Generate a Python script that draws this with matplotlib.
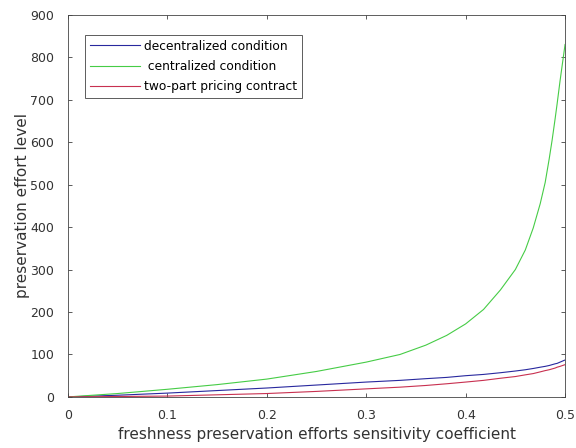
import numpy as np
import matplotlib
matplotlib.use("Agg")
import matplotlib.pyplot as plt

plt.rcParams['font.family'] = ['DejaVu Sans']

# sensitivity coefficient (x) and effort levels
x = [0, 0.05, 0.1, 0.15, 0.2, 0.25, 0.3, 0.334, 0.36, 0.381, 0.4, 0.418, 0.435, 0.45,
     0.46, 0.468, 0.475, 0.48, 0.484, 0.487, 0.49, 0.492, 0.495, 0.5]
decentralized = [0, 4, 9, 15, 21, 28, 35, 39, 43, 46, 50, 53, 57, 61,
                 64, 67, 70, 72, 74, 76, 78, 79, 82, 87]
centralized = [0, 8, 18, 29, 42, 60, 82, 100, 122, 145, 172, 206, 252, 300,
               346, 398, 455, 505, 560, 605, 655, 690, 745, 830]
two_part = [0, 1, 2, 5, 8, 13, 19, 23, 27, 31, 35, 39, 44, 48,
            52, 55, 59, 62, 64, 66, 68, 70, 72, 76]

labels = ["decentralized condition", " centralized condition", "two-part pricing contract"]
xticks = [0, 0.1, 0.2, 0.3, 0.4, 0.5]
yticks = list(range(0, 901, 100))

fig = plt.figure(figsize=(5.76, 4.48), dpi=100)
ax = fig.add_axes([0.118, 0.114, 0.863, 0.853])

ax.plot(x, decentralized, color='#28289e', lw=0.8, label=labels[0])
ax.plot(x, centralized, color='#46cc46', lw=0.8, label=labels[1])
ax.plot(x, two_part, color='#c83050', lw=0.8, label=labels[2])

ax.set_xlim(0, 0.5)
ax.set_ylim(0, 900)
ax.set_xticks(xticks)
ax.set_xticklabels(["0", "0.1", "0.2", "0.3", "0.4", "0.5"])
ax.set_yticks(yticks)
ax.tick_params(direction='in', top=True, right=True, length=3, width=0.6,
               labelsize=9, colors='#404040', labelcolor='#333333')
ax.tick_params(axis='x', pad=9)
ax.tick_params(axis='y', pad=10)
for s in ax.spines.values():
    s.set_linewidth(0.6)
    s.set_color('#444444')

ax.set_xlabel("freshness preservation efforts sensitivity coefficient", fontsize=11, color='#333333', labelpad=3)
ax.set_ylabel("preservation effort level", fontsize=11, color='#333333', labelpad=0)

leg = ax.legend(loc='upper left', bbox_to_anchor=(0.034, 0.948), borderaxespad=0, fontsize=8.8,
                frameon=True, fancybox=False, edgecolor='#333333', handlelength=4.1, borderpad=0.4,
                labelspacing=0.6, handletextpad=0.3)
leg.get_frame().set_linewidth(0.7)

plt.savefig("out.png", dpi=100)
